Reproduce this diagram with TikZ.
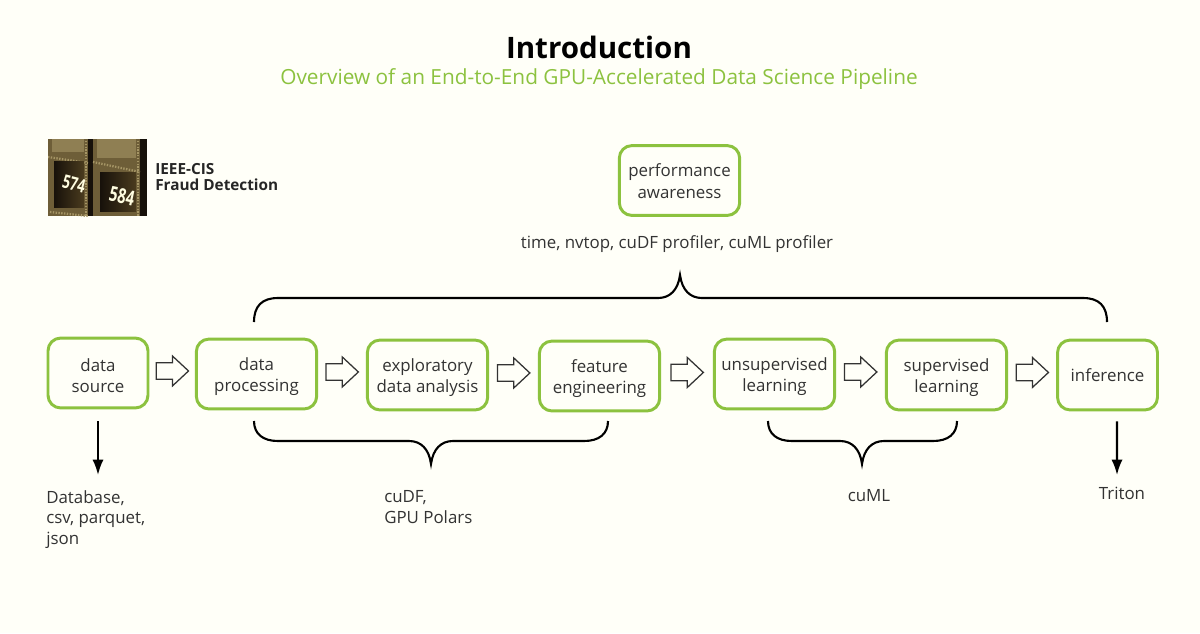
\documentclass[tikz,border=0pt]{standalone}
\usepackage{fontspec}
\setmainfont{Open Sans}
\usetikzlibrary{calc,shapes.arrows,arrows.meta}

\definecolor{paper}{HTML}{FFFFF8}
\definecolor{nvgreen}{HTML}{8CC23F}
\definecolor{inktext}{HTML}{333333}
\definecolor{doorbrass}{HTML}{6E5E38}
\definecolor{doordark}{HTML}{4A3B1E}
\definecolor{doorlight}{HTML}{A59565}
\definecolor{doorshadow}{HTML}{17110A}

\tikzset{
	stage/.style={draw=nvgreen,line width=2.1pt,rounded corners=9pt,fill=paper,text=inktext,
		align=center,inner sep=0pt,font=\fontsize{12}{15}\selectfont},
	headroom/.style={execute at begin node={\rule{0pt}{#1}}},
	wide/.style={minimum width=85.6pt,minimum height=49.7pt},
	narrow/.style={minimum width=71.1pt,minimum height=49.7pt},
	note/.style={text=inktext,inner sep=0pt,font=\fontsize{12}{14.7}\selectfont},
	flow/.style={draw=inktext,fill=paper,line width=0.9pt,single arrow,minimum height=23pt,
		single arrow head extend=4.8pt,single arrow tip angle=86,inner xsep=0pt,inner ysep=5.4pt,
		xshift=-3pt,yshift=1.8pt},
	brace/.style={line width=1.5pt,black},
	pointer/.style={line width=1.5pt,black,-{Latex[length=11pt,width=8pt]}},
	ornament/.style={doorlight,line width=1.6pt,dash pattern=on 1pt off 1pt},
	boxnumber/.style={text=yellow!12,inner sep=0pt,font=\bfseries}
}

\begin{document}
\begin{tikzpicture}[x=0.025cm,y=-0.025cm]

\fill[paper] (0,0) rectangle (1200,633);
\useasboundingbox (0,0) rectangle (1200,633);

\node (title) at (599,47) {\fontsize{21}{24}\selectfont\bfseries Introduction};
\node[text=nvgreen] (subtitle) at (599,79) {\fontsize{14.8}{17}\selectfont Overview of an End-to-End GPU-Accelerated Data Science Pipeline};

% the photo of the mail boxes
\begin{scope}
\clip (48,139) rectangle (147,216);
\fill[doorshadow] (48,139) rectangle (147,216);
\fill[doorbrass] (48,139) rectangle (88,216);
\fill[doorbrass] (93,139) rectangle (140,216);
\fill[doorlight!60!doorbrass] (52,139) rectangle (84,152);
\fill[doorlight!60!doorbrass] (97,139) rectangle (136,158);
\draw[ornament] (48,157)--(88,163);
\draw[ornament] (93,162)--(140,172);
\draw[ornament] (86,141)--(86,216);
\draw[ornament] (138,141)--(138,216);
\draw[ornament] (50,212)--(88,216);
\shade[left color=doorshadow,right color=doordark] (54,161) rectangle (84,207);
\shade[left color=doorshadow,right color=doordark] (100,172) rectangle (136,211);
\node[boxnumber,rotate=-14,yscale=1.4] (boxleft) at (74,184) {\fontsize{9.5}{12}\selectfont 574};
\node[boxnumber,rotate=-12,yscale=1.4] (boxright) at (122,196) {\fontsize{10.5}{12}\selectfont 584};
\end{scope}

\node[align=left,text=black!85,inner sep=0pt,anchor=west,font=\fontsize{10.9}{11.6}\selectfont\bfseries] (dataset) at (155,177) {IEEE-CIS\\Fraud Detection};

\node[stage,narrow,headroom=28pt] (source) at (98,373) {data\\source};
\node[stage,wide,headroom=28pt] (processing) at (256.5,374) {data\\processing};
\node[stage,wide,headroom=28pt] (analysis) at (427.5,375) {exploratory\\data analysis};
\node[stage,wide,headroom=28pt] (features) at (599.5,376) {feature\\engineering};
\node[stage,wide,headroom=28pt] (unsup) at (774.5,374) {unsupervised\\learning};
\node[stage,wide,headroom=28pt] (sup) at (946.5,375) {supervised\\learning};
\node[stage,narrow,headroom=10pt] (inference) at (1107.5,375) {inference};
\node[stage,wide,headroom=25pt] (awareness) at (679.5,180.5) {performance\\awareness};

\foreach \a/\b in {source/processing,processing/analysis,analysis/features,features/unsup,unsup/sup,sup/inference}{
	\path (\a.east) -- (\b.west) node[flow,midway] (flow-\a) {};
}

\node[note] (tools) at (677,244.5) {time, nvtop, cuDF profiler, cuML profiler};
\node[note,align=left,anchor=north west] (formats) at (46,490) {Database,\\csv, parquet,\\json};
\node[note,align=left,anchor=north west] (gpulibs) at (384,490) {cuDF,\\GPU Polars};
\node[note,anchor=north] (cuml) at (869,489) {cuML};
\node[note,anchor=north] (triton) at (1122,487) {Triton};

\coordinate (sourcefoot) at ($(source.south)+(0,12)$);
\coordinate (sourcetip) at (98,475);
\coordinate (inferfoot) at ($(inference.south)+(9.5,10)$);
\coordinate (infertip) at (1117,475);
\draw[pointer] (sourcefoot)--(sourcetip);
\draw[pointer] (inferfoot)--(infertip);

% braces
\coordinate (topleft) at (254,322);
\coordinate (topmid) at (680,275);
\coordinate (topright) at (1107,322);
\draw[brace] (topleft) .. controls (254,306) and (262,298) .. (278,298) -- (658,298)
	.. controls (670,298) and (678,290) .. (topmid)
	.. controls (682,290) and (690,298) .. (702,298) -- (1083,298)
	.. controls (1099,298) and (1107,306) .. (topright);

\coordinate (cudfleft) at (254,421);
\coordinate (cudfmid) at (431,464);
\coordinate (cudfright) at (608,421);
\draw[brace] (cudfleft) .. controls (254,434) and (263,441) .. (278,441) -- (409,441)
	.. controls (421,441) and (429,449) .. (cudfmid)
	.. controls (433,449) and (441,441) .. (453,441) -- (584,441)
	.. controls (599,441) and (608,434) .. (cudfright);

\coordinate (cumlleft) at (768,421);
\coordinate (cumlmid) at (862,464);
\coordinate (cumlright) at (957,421);
\draw[brace] (cumlleft) .. controls (768,434) and (777,441) .. (792,441) -- (840,441)
	.. controls (852,441) and (860,449) .. (cumlmid)
	.. controls (864,449) and (872,441) .. (884,441) -- (933,441)
	.. controls (948,441) and (957,434) .. (cumlright);

\end{tikzpicture}
\end{document}
